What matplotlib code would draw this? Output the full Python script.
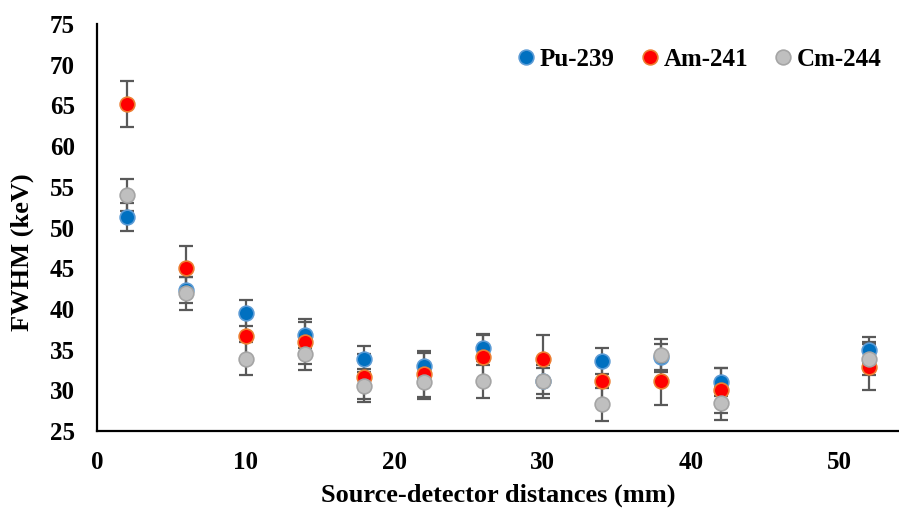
import matplotlib
matplotlib.use("Agg")
from matplotlib import pyplot as plt

# source-detector distances (mm)
distance = [2, 6, 10, 14, 18, 22, 26, 30, 34, 38, 42, 52]

pu239 = [51.3, 42.3, 39.5, 36.8, 33.9, 33.0, 35.2, 31.2, 33.6, 34.1, 31.0, 35.0]
am241 = [65.2, 45.0, 36.7, 36.0, 31.7, 32.0, 34.1, 33.9, 31.1, 31.1, 30.0, 32.9]
cm244 = [54.0, 41.9, 33.9, 34.5, 30.6, 31.0, 31.1, 31.1, 28.3, 34.3, 28.4, 33.9]

pu_err = [1.7, 1.6, 1.6, 1.6, 1.6, 1.6, 1.6, 1.6, 1.6, 1.6, 1.7, 1.6]
am_err = [2.8, 2.7, 2.8, 2.8, 2.8, 2.8, 2.8, 2.9, 2.8, 2.9, 2.8, 2.8]
cm_err = [2.0, 2.0, 2.0, 2.0, 2.0, 2.0, 2.0, 2.0, 2.0, 2.0, 2.0, 2.0]

series = [
    ("Pu-239", pu239, pu_err, "#0070C0", "#5B9BD5"),
    ("Am-241", am241, am_err, "#FF0000", "#ED7D31"),
    ("Cm-244", cm244, cm_err, "#BFBFBF", "#A5A5A5"),
]


def main():
    plt.rcParams['font.family'] = ['Liberation Serif', 'DejaVu Serif']
    plt.rcParams['font.weight'] = 'bold'

    fig = plt.figure(figsize=(8.99, 5.09), dpi=100)
    ax = fig.add_axes([0.108, 0.153, 0.892, 0.800])

    for i, (name, vals, err, face, edge) in enumerate(series):
        ax.errorbar(distance, vals, yerr=err, fmt='none', ecolor='#595959',
                    elinewidth=1.6, capsize=5, capthick=1.6, zorder=2 + i * 0.1)
    for i, (name, vals, err, face, edge) in enumerate(series):
        ax.plot(distance, vals, 'o', color=face, markeredgecolor=edge,
                markersize=10.6, markeredgewidth=1.2, label=name, zorder=5 + i)

    ax.set_xlim(0, 54)
    ax.set_ylim(25, 75)
    ax.set_xticks([0, 10, 20, 30, 40, 50])
    ax.set_yticks(range(25, 80, 5))
    ax.tick_params(axis='x', length=0, labelsize=18, pad=14)
    ax.tick_params(axis='y', length=0, labelsize=18, pad=16)
    for lab in ax.get_xticklabels() + ax.get_yticklabels():
        lab.set_fontweight('bold')

    for side in ('top', 'right'):
        ax.spines[side].set_visible(False)
    for side in ('left', 'bottom'):
        ax.spines[side].set_linewidth(1.6)

    ax.set_xlabel('Source-detector distances (mm)', fontsize=19, fontweight='bold', labelpad=7)
    ax.set_ylabel('FWHM (keV)', fontsize=19, fontweight='bold')
    ax.yaxis.set_label_coords(-0.079, 0.44)

    leg = ax.legend(loc='upper right', ncol=3, frameon=False, fontsize=18,
                    handlelength=0.8, handletextpad=0.15, columnspacing=1.0,
                    markerscale=1.0, bbox_to_anchor=(1.0, 0.985), borderaxespad=0.3)
    for t in leg.get_texts():
        t.set_fontweight('bold')

    fig.savefig('out.png', dpi=100)


if __name__ == '__main__':
    main()
